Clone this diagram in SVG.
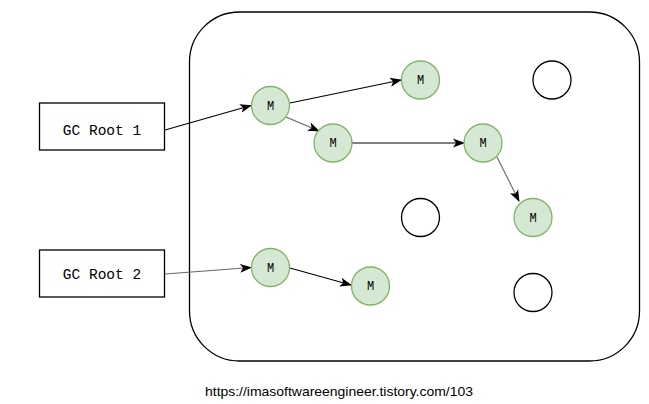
<svg xmlns="http://www.w3.org/2000/svg" width="649" height="404" viewBox="0 0 649 404">
<style>
.m{fill:#d5e8d4;stroke:#82b366;stroke-width:1.3}
.e{fill:#fff;stroke:#000;stroke-width:1.3}
.mt{font-family:"Liberation Mono",monospace;font-size:12px;text-anchor:middle;fill:#000}
.rt{font-family:"Liberation Mono",monospace;font-size:14.5px;text-anchor:middle;fill:#000}
.box{fill:#fff;stroke:#000;stroke-width:1.3}
.c{fill:none;stroke:#000;stroke-width:1.2;marker-end:url(#ah)}
.g{stroke:#666}
</style>
<defs>
<marker id="ah" viewBox="0 0 12 10" refX="11" refY="5" markerWidth="12" markerHeight="10" markerUnits="userSpaceOnUse" orient="auto">
<path d="M0,0.5 L12,5 L0,9.5 L3,5 Z" fill="#000"/>
</marker>
</defs>
<rect id="heap" x="189.5" y="12" width="450" height="349" rx="50" ry="50" fill="#fff" stroke="#000" stroke-width="1.3"/>
<g id="root1"><rect class="box" x="39.5" y="103" width="125" height="47"/><text class="rt" x="102" y="135">GC Root 1</text></g>
<g id="root2"><rect class="box" x="39.5" y="250" width="125" height="47"/><text class="rt" x="102" y="279">GC Root 2</text></g>
<g id="connectors">
<line class="c" x1="165" y1="130" x2="251" y2="105.5"/>
<line class="c g" x1="165" y1="274" x2="251" y2="267.5"/>
<line class="c" x1="290" y1="103" x2="401" y2="80"/>
<line class="c g" x1="286" y1="117" x2="319" y2="131"/>
<line class="c" x1="352" y1="143" x2="464" y2="143"/>
<line class="c g" x1="497" y1="157" x2="519" y2="201"/>
<line class="c" x1="290" y1="268" x2="351" y2="285"/>
</g>
<g id="m1"><circle class="m" cx="270.5" cy="105.5" r="19"/><text class="mt" x="270.5" y="109.5">M</text></g>
<g id="m2"><circle class="m" cx="420.5" cy="80" r="19"/><text class="mt" x="420.5" y="84">M</text></g>
<g id="m3"><circle class="m" cx="333" cy="143" r="19"/><text class="mt" x="333" y="147">M</text></g>
<g id="m4"><circle class="m" cx="483" cy="143" r="19"/><text class="mt" x="483" y="147">M</text></g>
<g id="m5"><circle class="m" cx="533" cy="217.5" r="19"/><text class="mt" x="533" y="221.5">M</text></g>
<g id="m6"><circle class="m" cx="270.5" cy="267.5" r="19"/><text class="mt" x="270.5" y="271.5">M</text></g>
<g id="m7"><circle class="m" cx="370.5" cy="286" r="19"/><text class="mt" x="370.5" y="290">M</text></g>
<g id="e1"><circle class="e" cx="552" cy="80" r="19"/></g>
<g id="e2"><circle class="e" cx="420.5" cy="217.5" r="19"/></g>
<g id="e3"><circle class="e" cx="533" cy="292.5" r="19"/></g>
<text x="205" y="396" font-family="'Liberation Sans',sans-serif" font-size="13.5" textLength="268" lengthAdjust="spacingAndGlyphs" fill="#000">https://imasoftwareengineer.tistory.com/103</text>
</svg>
